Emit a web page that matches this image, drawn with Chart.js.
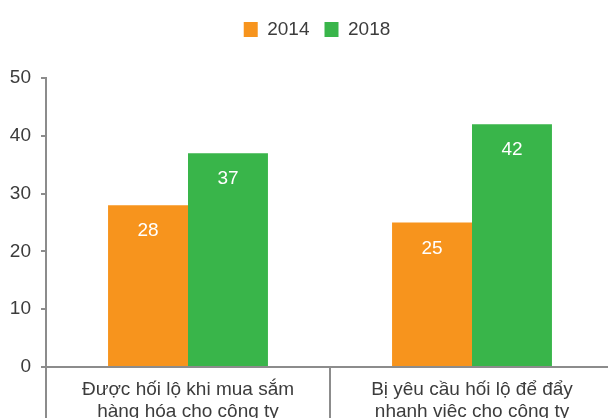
<!DOCTYPE html>
<html>
<head>
<meta charset="utf-8">
<script src="https://cdn.jsdelivr.net/npm/chart.js@4.4.1/dist/chart.umd.min.js"></script>
<style>
    body { margin: 0; overflow: hidden; background: #fff; }
</style>
</head>
<body>
<canvas id="bribeChart" width="614" height="418"></canvas>
<script>
// Chart data
const categories = [
    ['Được hối lộ khi mua sắm', 'hàng hóa cho công ty'],
    ['Bị yêu cầu hối lộ để đẩy', 'nhanh việc cho công ty']
];
const values2014 = [28, 25];
const values2018 = [37, 42];
const yTicks = [0, 10, 20, 30, 40, 50];

const colors = {
    orange: '#F7941D',
    green: '#39B54A',
    axis: '#8c8c8c',
    text: '#3c3c3c'
};

const fontFamily = 'Arial, "Liberation Sans", sans-serif';

// White value labels inside the bars
const barValuePlugin = {
    id: 'barValues',
    afterDatasetsDraw(chart) {
        const ctx = chart.ctx;
        ctx.save();
        ctx.fillStyle = '#fff';
        ctx.font = '19px ' + fontFamily;
        ctx.textAlign = 'center';
        ctx.textBaseline = 'middle';
        chart.data.datasets.forEach((ds, i) => {
            chart.getDatasetMeta(i).data.forEach((bar, j) => {
                ctx.fillText(ds.data[j], bar.x, bar.y + 26);
            });
        });
        ctx.restore();
    }
};

// Fix legend height so the plot starts where the reference does,
// and nudge it a little right like the original
const legendLayoutPlugin = {
    id: 'legendLayout',
    beforeInit(chart) {
        const origFit = chart.legend.fit;
        chart.legend.fit = function() {
            origFit.bind(chart.legend)();
            this.height = 73;
        };
    },
    afterLayout(chart) {
        chart.legend.left += 20;
    }
};

new Chart(document.getElementById('bribeChart'), {
    type: 'bar',
    data: {
        labels: categories,
        datasets: [{
            label: '2014',
            data: values2014,
            backgroundColor: colors.orange,
            categoryPercentage: 0.563,
            barPercentage: 1
        }, {
            label: '2018',
            data: values2018,
            backgroundColor: colors.green,
            categoryPercentage: 0.563,
            barPercentage: 1
        }]
    },
    options: {
        responsive: false,
        animation: false,
        layout: { padding: { left: 0, top: 5, right: 0, bottom: 0 } },
        plugins: {
            legend: {
                position: 'top',
                labels: {
                    boxWidth: 14,
                    boxHeight: 15,
                    padding: 15,
                    color: colors.text,
                    font: { size: 19, family: fontFamily }
                }
            },
            tooltip: { enabled: false }
        },
        scales: {
            x: {
                afterFit: s => { s.height = 51; },
                border: { color: colors.axis, width: 2 },
                grid: {
                    offset: true,
                    drawOnChartArea: false,
                    color: colors.axis,
                    lineWidth: 2,
                    tickLength: 60
                },
                ticks: {
                    color: colors.text,
                    padding: -48,
                    font: { size: 19, family: fontFamily, lineHeight: 1.15 },
                    maxRotation: 0
                }
            },
            y: {
                min: 0,
                max: 50,
                afterFit: s => { s.width = 46; },
                afterBuildTicks: s => { s.ticks = yTicks.map(v => ({ value: v })); },
                border: { color: colors.axis, width: 2 },
                grid: {
                    drawOnChartArea: false,
                    color: colors.axis,
                    lineWidth: 2,
                    tickLength: 5
                },
                ticks: {
                    color: colors.text,
                    padding: 10,
                    font: { size: 19, family: fontFamily }
                }
            }
        }
    },
    plugins: [barValuePlugin, legendLayoutPlugin]
});
</script>
</body>
</html>
